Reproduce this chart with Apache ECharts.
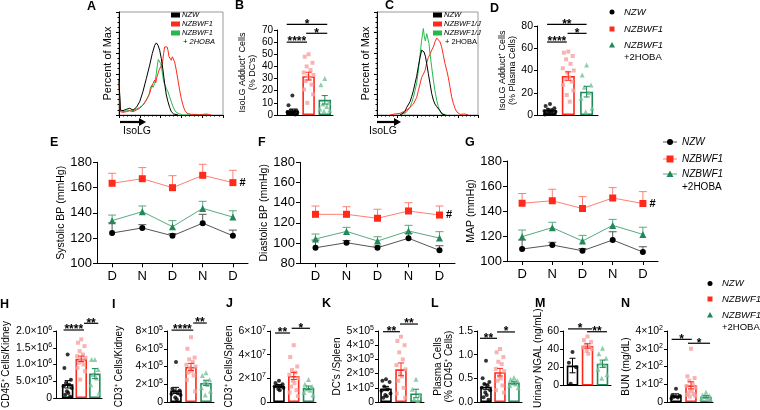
<!DOCTYPE html>
<html><head><meta charset="utf-8">
<script src="https://cdn.jsdelivr.net/npm/echarts@6/dist/echarts.min.js"></script>
<style>html,body{margin:0;padding:0;background:#fff}#c{width:760px;height:410px}</style>
</head><body><div id="c"></div>
<script>
// ---------------- DATA ----------------
const groupNames = ['NZW', 'NZBWF1', 'NZBWF1 +2HOBA'];
// Histograms (x = % of axis width, y = percent of max)
const histA_NZW = [[0,35],[1.3,4.8],[3.8,4.2],[7,5.5],[10.3,6.5],[13.5,4.8],[16.7,7.4],[19.9,12.9],[23,22.6],[26.3,35.5],[29.5,48.4],[32,59.7],[34.3,67.7],[35.9,70],[37.5,67.7],[39.1,62.9],[40.7,54.8],[42.3,43.5],[43.9,30.6],[45.5,19.4],[47.1,12.9],[48.7,7.4],[50.3,3.2],[52.6,1],[56.7,0]];
const histA_BWF = [[0,30.6],[1.3,3.2],[3.8,2.6],[7.1,3.2],[10.3,4.2],[13.5,3.2],[16.7,4.8],[19.9,6.5],[23.1,9.7],[26.3,14.5],[29.5,21],[31.1,26.8],[32.7,30.6],[34.3,33.9],[35.3,31.3],[36.5,37.1],[38.5,43.5],[40.1,46.8],[41.7,50],[42.9,59.7],[43.9,66.1],[44.9,67.7],[46.2,66.1],[47.1,62.9],[48.1,56.5],[49.4,54.8],[50.3,53.2],[51.3,56.5],[52.6,58.1],[53.5,51.6],[55.1,43.5],[56.7,33.9],[58.3,24.2],[59.9,16.1],[61.5,9.7],[63.1,4.8],[65.4,1.6],[69.6,0.6],[74.4,0.6],[77.6,0],[84,1],[88.8,0]];
const histA_HOBA = [[0,32.3],[1.3,4.8],[3.8,3.2],[7.1,4.2],[13.5,4.2],[19.9,7.4],[23.1,9.7],[26.3,14.5],[28.8,19.4],[30.1,25.8],[31.4,29],[32.7,26.8],[34.3,30.6],[35.9,40.3],[36.9,48.4],[37.8,53.9],[39.1,53.9],[40.1,50],[41,45.2],[42,38.7],[42.9,32.3],[44.2,29],[45.5,25.8],[47.1,22.6],[48.7,17.7],[50.3,12.9],[51.9,8.1],[53.5,4.8],[55.1,2.6],[58.3,1],[61.5,0],[82.4,0.6],[85.6,0]];
const histC_NZW = [[22.8,0],[27.7,3.2],[29.4,7.4],[32.7,12.9],[34.3,17.7],[36,23.5],[37.6,30.6],[39.3,37.7],[40.9,46.8],[42.6,55.8],[44.2,62.9],[45.2,63.5],[46.5,61.3],[47.9,57.1],[49.2,50],[50.8,40.3],[52.5,30.6],[54.1,21],[55.8,14.5],[57.4,10.6],[59.1,8.1],[60.7,7.4],[62.4,4.2],[64.4,1],[67.3,0]];
const histC_BWF = [[12.9,0],[17.8,1],[22.8,1.6],[26.1,3.2],[29.4,4.8],[32.7,7.4],[36,10.6],[39.3,17.1],[40.9,23.5],[42.6,30],[44.2,36.5],[45.9,39.7],[47.5,42.9],[49.2,50.6],[50.8,55.8],[52.5,59],[54.1,62.9],[55.8,66.1],[57.4,71],[59.1,74.8],[60.7,73.9],[62.4,71],[64,66.1],[65.7,58.1],[67.3,50],[69,43.5],[70.6,36.5],[72.3,26.8],[73.9,17.7],[75.6,11.3],[77.2,6.5],[78.9,3.2],[82.2,0.6],[87.1,1],[90.4,0]];
const histC_HOBA = [[22.8,0],[28.7,2.3],[32.7,7.4],[34.3,11.9],[36,17.1],[37.6,23.5],[39.3,31.3],[40.9,42.9],[42.6,58.1],[44.2,72.6],[45.9,83.9],[46.9,75.8],[47.9,71.9],[49.2,79],[50.2,77.4],[51.5,69.4],[52.5,59.7],[54.1,46.8],[55.8,33.9],[57.4,23.5],[59.1,14.5],[60.7,8.1],[62.4,3.2],[65.7,1],[69,0]];

// B: IsoLG adduct+ DCs (%)
const B_NZW = [16, 8, 4, 3.5, 3, 2.5, 2, 1.5, 1, 0.8, 0.5, 2];
const B_BWF = [50, 48, 43, 40, 37, 35, 33, 32, 30, 28, 25, 21, 17, 10];
const B_HOBA = [30, 25, 10, 9, 7, 5, 4, 3];
const B_mean = [3.6, 32, 12.5];
const B_sem = [1.3, 3.2, 3.5];
// D: IsoLG adduct+ plasma cells (%)
const D_NZW = [10, 8, 6, 5, 4, 3.5, 3, 2.5, 2, 1.5, 1, 0.5];
const D_BWF = [57, 56, 53, 50, 46, 42, 40, 38, 34, 32, 30, 27, 22, 18, 12];
const D_HOBA = [45, 36, 27, 25, 20, 15, 6, 3];
const D_mean = [4.5, 35, 21];
const D_sem = [0.9, 3.8, 4.8];
// E/F/G blood pressure
const bpCategories = ['D', 'N', 'D', 'N', 'D'];
const sbpNZW = [124, 128, 121.8, 131.8, 121.8];
const sbpNZWErr = [132, 130.6, 123.5, 138.8, 126.3];
const sbpBWF = [163.4, 167, 159.9, 169.7, 163.9];
const sbpBWFErr = [171.3, 175.8, 169.4, 178.4, 173.7];
const sbpHOBA = [133.8, 140.9, 129.0, 143.5, 136.6];
const sbpHOBAErr = [138.2, 145.4, 133.8, 149.1, 141.6];
const dbpNZW = [95.4, 100.4, 95.4, 104.8, 92.8];
const dbpNZWErr = [103, 102.5, 97, 109.7, 97.4];
const dbpBWF = [128.5, 128.5, 124.6, 131.8, 127.8];
const dbpBWFErr = [136.7, 136, 133.5, 140, 136.7];
const dbpHOBA = [104.1, 111.6, 102.1, 112, 105];
const dbpHOBAErr = [109, 115.6, 106.3, 117.6, 111.3];
const mapNZW = [109.6, 112.8, 108.2, 116.8, 107.2];
const mapNZWErr = [116.8, 115, 110, 123.4, 111.4];
const mapBWF = [146.2, 148.2, 142, 150.4, 146];
const mapBWFErr = [154, 157.4, 151.5, 158.7, 155.5];
const mapHOBA = [119.5, 126.7, 116, 128.5, 121.3];
const mapHOBAErr = [124.8, 131, 120.5, 133.3, 127];
// H: CD45+ cells / kidney
const H_NZW = [1.3e6, 0.9e6, 0.55e6, 0.45e6, 0.4e6, 0.35e6, 0.3e6, 0.2e6, 0.15e6, 0.1e6, 0.05e6];
const H_BWF = [1.75e6, 1.65e6, 1.55e6, 1.4e6, 1.3e6, 1.25e6, 1.2e6, 1.15e6, 1.1e6, 1.05e6, 1.0e6, 0.9e6, 0.8e6, 0.55e6];
const H_HOBA = [1.15e6, 1.15e6, 0.85e6, 0.7e6, 0.6e6, 0.4e6, 0.15e6];
const H_mean = [0.41e6, 1.17e6, 0.73e6];
const H_sem = [0.11e6, 0.08e6, 0.15e6];
// I: CD3+ cells / kidney
const I_NZW = [4.5e5, 1.5e5, 1.3e5, 1.2e5, 1.0e5, 0.9e5, 0.8e5, 0.5e5, 0.3e5];
const I_BWF = [7.3e5, 6.0e5, 5.0e5, 4.8e5, 4.5e5, 4.2e5, 4.0e5, 3.8e5, 3.5e5, 3.3e5, 3.0e5, 2.5e5, 1.2e5];
const I_HOBA = [3.3e5, 3.0e5, 2.5e5, 2.2e5, 2.0e5, 1.6e5, 1.2e5, 0.8e5];
const I_mean = [1.3e5, 3.95e5, 2.15e5];
const I_sem = [0.35e5, 0.4e5, 0.3e5];
// J: CD3+ cells / spleen
const J_NZW = [1.8e7, 1.6e7, 1.5e7, 1.4e7, 1.3e7, 1.3e7, 1.2e7, 1.1e7, 1.0e7];
const J_BWF = [4.8e7, 3.8e7, 3.0e7, 2.7e7, 2.5e7, 2.3e7, 2.0e7, 1.8e7, 1.6e7, 1.3e7, 1.0e7, 0.8e7, 0.5e7];
const J_HOBA = [1.9e7, 1.5e7, 1.3e7, 1.1e7, 1.0e7, 0.8e7, 0.6e7];
const J_mean = [1.37e7, 2.2e7, 1.2e7];
const J_sem = [0.1e7, 0.3e7, 0.15e7];
// K: DCs / spleen
const K_NZW = [1.6e5, 1.5e5, 1.4e5, 1.1e5, 0.9e5, 0.8e5, 0.6e5, 0.5e5, 0.4e5, 0.3e5];
const K_BWF = [4.6e5, 4.3e5, 4.0e5, 3.5e5, 3.0e5, 2.6e5, 2.3e5, 2.0e5, 1.8e5, 1.5e5, 1.0e5, 0.6e5, 0.3e5];
const K_HOBA = [1.6e5, 0.9e5, 0.5e5, 0.2e5, 0.1e5];
const K_mean = [0.95e5, 2.3e5, 0.6e5];
const K_sem = [0.15e5, 0.45e5, 0.3e5];
// L: plasma cells (% CD45+)
const L_NZW = [0.87, 0.5, 0.42, 0.38, 0.35, 0.3, 0.25, 0.2, 0.15, 0.1, 0.05];
const L_BWF = [1.12, 1.05, 0.95, 0.85, 0.8, 0.7, 0.65, 0.55, 0.5, 0.45, 0.35, 0.25, 0.2];
const L_HOBA = [0.52, 0.48, 0.45, 0.4, 0.38, 0.35, 0.3];
const L_mean = [0.32, 0.63, 0.41];
const L_sem = [0.06, 0.08, 0.03];
// M: urinary NGAL
const M_NZW = [37, 25, 20, 2];
const M_BWF = [54, 50, 48, 45, 43, 42, 40, 38, 35];
const M_HOBA = [41, 35, 30, 25, 22, 18, 12, 8];
const M_mean = [22, 43.5, 24];
const M_sem = [8, 2.5, 4];
// N: BUN
const N_NZW = [75, 40, 35, 30, 25, 20];
const N_BWF = [300, 145, 135, 120, 100, 90, 80, 70, 60, 50, 45, 40, 35, 30];
const N_HOBA = [55, 40, 35, 30, 25, 20, 15];
const N_mean = [36, 94, 30];
const N_sem = [10, 20, 6];
// significance brackets: [from, to (group index units), y value, label]
const B_sig = [[-0.35, 0.9, 60, '****'], [0.85, 2.15, 67.3, '*'], [-0.35, 2.15, 74.7, '*']];
const D_sig = [[-0.16, 0.92, 65.6, '****'], [0.96, 2.0, 73.4, '*'], [-0.16, 2.0, 81.5, '**']];
const H_sig = [[-0.3, 1.2, 2.03e6, '****'], [1.2, 2.25, 2.23e6, '**']];
const I_sig = [[-0.3, 1.15, 8.1e5, '****'], [1.15, 2.05, 8.9e5, '**']];
const J_sig = [[-0.27, 0.75, 5.83e7, '**'], [0.86, 2.1, 6.23e7, '*']];
const K_sig = [[-0.2, 0.93, 4.95e5, '**'], [0.93, 2.13, 5.49e5, '**']];
const L_sig = [[-0.43, 0.79, 1.346, '**'], [0.79, 2.07, 1.48, '*']];
const M_sig = [[-0.3, 1.3, 62.3, '*'], [0.97, 2.3, 59.2, '**']];
const N_sig = [[-0.29, 1.05, 353, '*'], [0.8, 2.27, 331, '*']];

// ---------------- STYLE ----------------
const FONT = "'Liberation Sans', Arial, Helvetica, sans-serif";
const barEdge = ['#000000', '#ff2a1a', '#1f8a57'];
const pointFill = ['#000000', '#f7a0a0', '#74c29a'];
const pointSymbol = ['circle', 'rect', 'triangle'];
const pointSize = [4, 4, 5];
const lineStroke = ['#555555', '#ff7f72', '#5aa880'];
const markFill = ['#000000', '#ff2a1a', '#1f8a57'];
const markSize = [6, 7, 7];
const histColor = ['#000000', '#ff2a1a', '#22bb4a'];
const jit = [0, -0.24, 0.24, -0.12, 0.12, -0.3, 0.3, -0.05, 0.05, -0.18, 0.18, -0.28, 0.28, -0.08, 0.08];

const grid = [], xAxis = [], yAxis = [], series = [], graphic = [];
const AX = {color: '#000', width: 1};

function sciFmt(dec) {
  return function (v) {
    if (v === 0) return '0';
    const e = Math.floor(Math.log10(v) + 1e-9);
    const m = v / Math.pow(10, e);
    return m.toFixed(dec) + '×10{s|' + e + '}';
  };
}
const supRich = {s: {fontSize: 7, fontFamily: FONT, color: '#000', verticalAlign: 'top', padding: [0, 0, 6, 0]}};

function histPanel(box, curves) {
  grid.push({left: box.l, top: box.t, width: box.w, height: box.h, show: true, borderColor: '#9a9a9a', borderWidth: 1});
  const gi = grid.length - 1;
  xAxis.push({type: 'value', gridIndex: gi, min: 0, max: 100, interval: 20,
    axisLine: {show: true, onZero: false, lineStyle: AX}, axisTick: {show: true, length: 3, lineStyle: AX},
    minorTick: {show: true, splitNumber: 5, length: 1.5, lineStyle: AX},
    axisLabel: {show: false}, splitLine: {show: false}});
  yAxis.push({type: 'value', gridIndex: gi, min: 0, max: 100, interval: 20,
    axisLine: {show: true, onZero: false, lineStyle: AX}, axisTick: {show: true, length: 3, lineStyle: AX},
    minorTick: {show: true, splitNumber: 4, length: 1.5, lineStyle: AX},
    axisLabel: {show: false}, splitLine: {show: false},
    name: 'Percent of Max', nameLocation: 'middle', nameGap: box.gap,
    nameTextStyle: {fontSize: 11, fontFamily: FONT, color: '#000'}});
  const xi = xAxis.length - 1, yi = yAxis.length - 1;
  curves.forEach((c, g) => series.push({type: 'line', xAxisIndex: xi, yAxisIndex: yi, data: c,
    symbol: 'none', lineStyle: {color: histColor[g], width: 1}, silent: true, z: 3 - g * 0.1}));
}

function linePanel(box, yMin, yMax, yName, nameGap, sets) {
  grid.push({left: box.l, top: box.t, width: box.w, height: box.h});
  const gi = grid.length - 1;
  xAxis.push({type: 'category', gridIndex: gi, data: bpCategories, boundaryGap: true,
    axisLine: {show: true, onZero: false, lineStyle: AX},
    axisTick: {show: true, alignWithLabel: true, length: 4, lineStyle: AX},
    axisLabel: {color: '#000', fontSize: 13, fontFamily: FONT, margin: 7}, splitLine: {show: false}});
  yAxis.push({type: 'value', gridIndex: gi, min: yMin, max: yMax, interval: 20,
    axisLine: {show: true, onZero: false, lineStyle: AX}, axisTick: {show: true, length: 4, lineStyle: AX},
    axisLabel: {color: '#000', fontSize: 13, fontFamily: FONT, margin: 5}, splitLine: {show: false},
    name: yName, nameLocation: 'middle', nameGap: nameGap,
    nameTextStyle: {fontSize: 10.5, fontFamily: FONT, color: '#000'}});
  const xi = xAxis.length - 1, yi = yAxis.length - 1;
  sets.forEach((s, g) => {
    const col = lineStroke[g];
    series.push({type: 'custom', xAxisIndex: xi, yAxisIndex: yi, z: 2, silent: true,
      data: s.vals.map((v, i) => [i, v, s.err[i]]),
      renderItem: (params, api) => {
        const p0 = api.coord([api.value(0), api.value(1)]);
        const p1 = api.coord([api.value(0), api.value(2)]);
        return {type: 'group', children: [
          {type: 'line', shape: {x1: p0[0], y1: p0[1], x2: p1[0], y2: p1[1]}, style: {stroke: col, lineWidth: 1}},
          {type: 'line', shape: {x1: p1[0] - 4, y1: p1[1], x2: p1[0] + 4, y2: p1[1]}, style: {stroke: col, lineWidth: 1}}
        ]};
      }});
    series.push({type: 'line', xAxisIndex: xi, yAxisIndex: yi, z: 3, name: groupNames[g],
      data: s.vals.map((v, i) => (g === 1 && i === s.vals.length - 1) ?
        {value: v, label: {show: true, formatter: '#', position: 'right', distance: 3, fontSize: 11, fontWeight: 'bold', color: '#000', fontFamily: FONT}} : v),
      symbol: pointSymbol[g], symbolSize: markSize[g], showAllSymbol: true,
      itemStyle: {color: markFill[g]}, lineStyle: {color: col, width: 1}});
  });
}

function barPanel(cfg) {
  grid.push({left: cfg.L, top: cfg.top, width: cfg.R - cfg.L, height: cfg.h});
  const gi = grid.length - 1;
  const xmin = -(cfg.c0 - cfg.L) / cfg.s, xmax = (cfg.R - cfg.c0) / cfg.s;
  xAxis.push({type: 'value', gridIndex: gi, min: xmin, max: xmax,
    axisLine: {show: true, onZero: false, lineStyle: AX}, axisTick: {show: false},
    axisLabel: {show: false}, splitLine: {show: false}});
  yAxis.push({type: 'value', gridIndex: gi, min: 0, max: cfg.max, interval: cfg.interval,
    axisLine: {show: true, onZero: false, lineStyle: AX}, axisTick: {show: true, length: 3, lineStyle: AX},
    axisLabel: {color: '#000', fontSize: cfg.fs, fontFamily: FONT, margin: 4, formatter: cfg.fmt, rich: supRich},
    splitLine: {show: false},
    name: cfg.name, nameLocation: 'middle', nameGap: cfg.gap,
    nameTextStyle: {fontSize: cfg.nfs, fontFamily: FONT, color: '#000', lineHeight: cfg.nfs + 1}});
  const xi = xAxis.length - 1, yi = yAxis.length - 1;
  series.push({type: 'bar', xAxisIndex: xi, yAxisIndex: yi, barWidth: cfg.bw, z: 2, silent: true,
    data: cfg.means.map((m, i) => ({value: [i, m], itemStyle: {borderColor: barEdge[i]}})),
    itemStyle: {color: 'rgba(255,255,255,0)', borderWidth: 1.6}});
  cfg.pts.forEach((arr, g) => series.push({type: 'scatter', xAxisIndex: xi, yAxisIndex: yi, z: 4, silent: true,
    name: groupNames[g], data: arr.map((v, j) => [g + jit[j % jit.length], v]),
    symbol: pointSymbol[g], symbolSize: pointSize[g], itemStyle: {color: pointFill[g]}}));
  series.push({type: 'custom', xAxisIndex: xi, yAxisIndex: yi, z: 5, silent: true,
    data: cfg.means.map((m, i) => [i, m - cfg.sem[i], m + cfg.sem[i]]),
    renderItem: (params, api) => {
      const col = barEdge[params.dataIndex];
      const a = api.coord([api.value(0), api.value(1)]);
      const b = api.coord([api.value(0), api.value(2)]);
      const w = 3;
      return {type: 'group', children: [
        {type: 'line', shape: {x1: a[0], y1: a[1], x2: b[0], y2: b[1]}, style: {stroke: col, lineWidth: 1}},
        {type: 'line', shape: {x1: b[0] - w, y1: b[1], x2: b[0] + w, y2: b[1]}, style: {stroke: col, lineWidth: 1}},
        {type: 'line', shape: {x1: a[0] - w, y1: a[1], x2: a[0] + w, y2: a[1]}, style: {stroke: col, lineWidth: 1}}
      ]};
    }});
  const sig = cfg.sig;
  series.push({type: 'custom', xAxisIndex: xi, yAxisIndex: yi, z: 6, silent: true, clip: false,
    data: sig.map(b => [b[0], b[1], b[2]]),
    renderItem: (params, api) => {
      const p1 = api.coord([api.value(0), api.value(2)]);
      const p2 = api.coord([api.value(1), api.value(2)]);
      return {type: 'group', children: [
        {type: 'line', shape: {x1: p1[0], y1: p1[1], x2: p2[0], y2: p1[1]}, style: {stroke: '#000', lineWidth: 1.2}},
        {type: 'text', x: (p1[0] + p2[0]) / 2, y: p1[1], style: {text: sig[params.dataIndex][3], align: 'center', verticalAlign: 'middle', fontSize: 12, fontWeight: 'bold', fontFamily: FONT, fill: '#000'}}
      ]};
    }});
}

// ---------------- PANELS ----------------
histPanel({l: 119, t: 12, w: 104, h: 103, gap: 6}, [histA_NZW, histA_BWF, histA_HOBA]);
histPanel({l: 377, t: 12, w: 101, h: 103, gap: 6}, [histC_NZW, histC_BWF, histC_HOBA]);

const fmtPlain = v => String(v);
barPanel({L: 277, R: 333, top: 30, h: 85, c0: 292.4, s: 16.2, bw: 12.5, max: 70, interval: 10, fmt: fmtPlain, fs: 10,
  name: 'IsoLG Adduct⁺ Cells\n(% DC\'s)', gap: 17, nfs: 9, pts: [B_NZW, B_BWF, B_HOBA], means: B_mean, sem: B_sem, sig: B_sig});
barPanel({L: 537, R: 598, top: 26, h: 89, c0: 550, s: 18.3, bw: 13, max: 80, interval: 20, fmt: fmtPlain, fs: 10.5,
  name: 'IsoLG Adduct⁺ Cells\n(% Plasma Cells)', gap: 17, nfs: 9, pts: [D_NZW, D_BWF, D_HOBA], means: D_mean, sem: D_sem, sig: D_sig});

linePanel({l: 97, t: 162.3, w: 151, h: 101}, 100, 180, 'Systolic BP (mmHg)', 28,
  [{vals: sbpNZW, err: sbpNZWErr}, {vals: sbpBWF, err: sbpBWFErr}, {vals: sbpHOBA, err: sbpHOBAErr}]);
linePanel({l: 300, t: 162.3, w: 155, h: 101}, 80, 180, 'Diastolic BP (mmHg)', 24,
  [{vals: dbpNZW, err: dbpNZWErr}, {vals: dbpBWF, err: dbpBWFErr}, {vals: dbpHOBA, err: dbpHOBAErr}]);
linePanel({l: 507, t: 161, w: 151, h: 100}, 100, 180, 'MAP (mmHg)', 23,
  [{vals: mapNZW, err: mapNZWErr}, {vals: mapBWF, err: mapBWFErr}, {vals: mapHOBA, err: mapHOBAErr}]);

const BT = 331, BH = 71;
barPanel({L: 54, R: 102, top: BT, h: BH, c0: 66, s: 14.25, bw: 11.5, max: 2e6, interval: 5e5, fmt: sciFmt(1), fs: 10.5,
  name: 'CD45⁺ Cells/Kidney', gap: 42, nfs: 10, pts: [H_NZW, H_BWF, H_HOBA], means: H_mean, sem: H_sem, sig: H_sig});
barPanel({L: 167, R: 214, top: BT, h: BH, c0: 176, s: 15, bw: 11.5, max: 8e5, interval: 2e5, fmt: sciFmt(0), fs: 10.5,
  name: 'CD3⁺ Cells/Kidney', gap: 42, nfs: 10, pts: [I_NZW, I_BWF, I_HOBA], means: I_mean, sem: I_sem, sig: I_sig});
barPanel({L: 270, R: 316, top: BT, h: BH, c0: 279, s: 14.75, bw: 11.5, max: 6e7, interval: 2e7, fmt: sciFmt(0), fs: 10.5,
  name: 'CD3⁺ Cells/Spleen', gap: 31, nfs: 10, pts: [J_NZW, J_BWF, J_HOBA], means: J_mean, sem: J_sem, sig: J_sig});
barPanel({L: 378, R: 424, top: BT, h: BH, c0: 386, s: 15, bw: 11.5, max: 5e5, interval: 1e5, fmt: sciFmt(0), fs: 10.5,
  name: 'DC\'s /Spleen', gap: 27, nfs: 10, pts: [K_NZW, K_BWF, K_HOBA], means: K_mean, sem: K_sem, sig: K_sig});
barPanel({L: 477, R: 522, top: BT, h: BH, c0: 486, s: 14, bw: 11.5, max: 1.5, interval: 0.5, fmt: v => v.toFixed(1), fs: 10.5,
  name: 'Plasma Cells\n(% CD45⁺ Cells)', gap: 20, nfs: 10, pts: [L_NZW, L_BWF, L_HOBA], means: L_mean, sem: L_sem, sig: L_sig});
barPanel({L: 563, R: 611, top: BT, h: BH, c0: 572.5, s: 15, bw: 11.5, max: 60, interval: 20, fmt: fmtPlain, fs: 10.5,
  name: 'Urinary NGAL (ng/mL)', gap: 15, nfs: 10, pts: [M_NZW, M_BWF, M_HOBA], means: M_mean, sem: M_sem, sig: M_sig});
barPanel({L: 667, R: 713, top: BT, h: BH, c0: 676, s: 15, bw: 11.5, max: 400, interval: 100, fmt: sciFmt(0), fs: 10.5,
  name: 'BUN (mg/dL)', gap: 35, nfs: 10, pts: [N_NZW, N_BWF, N_HOBA], means: N_mean, sem: N_sem, sig: N_sig});

// ---------------- ANNOTATIONS ----------------
function txt(s, x, y, o) {
  o = o || {};
  graphic.push({type: 'text', x: x, y: y, silent: true, style: {text: s, fontSize: o.fs || 10, fontFamily: FONT,
    fontStyle: o.it ? 'italic' : 'normal', fontWeight: o.b ? 'bold' : 'normal', fill: '#000',
    align: o.al || 'left', verticalAlign: 'middle'}});
}
[['A', 87, 7], ['B', 235, 6], ['C', 385, 6], ['D', 490, 9], ['E', 50, 143], ['F', 258, 143], ['G', 465, 143],
 ['H', 0, 305], ['I', 112, 305], ['J', 226, 304], ['K', 322, 304], ['L', 431, 304], ['M', 535, 304], ['N', 621, 304]]
 .forEach(l => txt(l[0], l[1], l[2], {fs: 12.5, b: true}));

// histogram legends
function histLegend(x, labels, extra, extraItalic) {
  [15, 24, 33].forEach((y, g) => {
    graphic.push({type: 'rect', silent: true, shape: {x: x, y: y - 2.5, width: 9, height: 5}, style: {fill: histColor[g]}});
    txt(labels[g], x + 11, y, {fs: 7.5, it: true});
  });
  txt(extra, x + 12, 42, {fs: 7.5, it: extraItalic});
}
histLegend(171, ['NZW', 'NZBWF1', 'NZBWF1'], '+ 2HOBA', true);
histLegend(433, ['NZW', 'NZBWF1/J', 'NZBWF1/J'], '+ 2HOBA', false);

// IsoLG arrows
function isoArrow(x1, x2, y, tx) {
  graphic.push({type: 'line', silent: true, shape: {x1: x1, y1: y, x2: x2 - 5, y2: y}, style: {stroke: '#000', lineWidth: 2.2}});
  graphic.push({type: 'polygon', silent: true, shape: {points: [[x2, y], [x2 - 7, y - 4], [x2 - 7, y + 4]]}, style: {fill: '#000'}});
  txt('IsoLG', tx, 131, {fs: 10.5, al: 'center'});
}
isoArrow(120, 146, 122, 137);
isoArrow(377, 401, 122, 383);

// scatter-style legends
function dotLegend(x, ys, fs) {
  graphic.push({type: 'circle', silent: true, shape: {cx: x, cy: ys[0], r: 2.5}, style: {fill: barEdge[0]}});
  graphic.push({type: 'rect', silent: true, shape: {x: x - 2.5, y: ys[1] - 2.5, width: 5, height: 5}, style: {fill: barEdge[1]}});
  graphic.push({type: 'polygon', silent: true, shape: {points: [[x, ys[2] - 3], [x - 3, ys[2] + 2.5], [x + 3, ys[2] + 2.5]]}, style: {fill: barEdge[2]}});
  txt('NZW', x + 12, ys[0], {fs: fs, it: true});
  txt('NZBWF1', x + 12, ys[1], {fs: fs, it: true});
  txt('NZBWF1', x + 12, ys[2], {fs: fs, it: true});
  txt('+2HOBA', x + 12, ys[3], {fs: fs});
}
dotLegend(612, [12, 29, 45, 57], 9.5);
dotLegend(710, [283.5, 299, 315, 327], 9.5);

// line legend (BP panels)
(function () {
  const x1 = 663, x2 = 677, xc = 670, tx = 682, ys = [142, 159, 174];
  ys.forEach((y, g) => graphic.push({type: 'line', silent: true, shape: {x1: x1, y1: y, x2: x2, y2: y}, style: {stroke: lineStroke[g], lineWidth: 1}}));
  graphic.push({type: 'circle', silent: true, shape: {cx: xc, cy: ys[0], r: 3}, style: {fill: markFill[0]}});
  graphic.push({type: 'rect', silent: true, shape: {x: xc - 3.5, y: ys[1] - 3.5, width: 7, height: 7}, style: {fill: markFill[1]}});
  graphic.push({type: 'polygon', silent: true, shape: {points: [[xc, ys[2] - 3.5], [xc - 3.5, ys[2] + 3], [xc + 3.5, ys[2] + 3]]}, style: {fill: markFill[2]}});
  txt('NZW', tx, ys[0], {fs: 10, it: true});
  txt('NZBWF1', tx, ys[1], {fs: 10, it: true});
  txt('NZBWF1', tx, ys[2], {fs: 10, it: true});
  txt('+2HOBA', tx, 187, {fs: 10});
})();

const chart = echarts.init(document.getElementById('c'), null, {renderer: 'canvas'});
chart.setOption({
  animation: false,
  backgroundColor: '#fff',
  textStyle: {fontFamily: FONT},
  grid: grid, xAxis: xAxis, yAxis: yAxis, series: series, graphic: graphic
});
</script></body></html>
